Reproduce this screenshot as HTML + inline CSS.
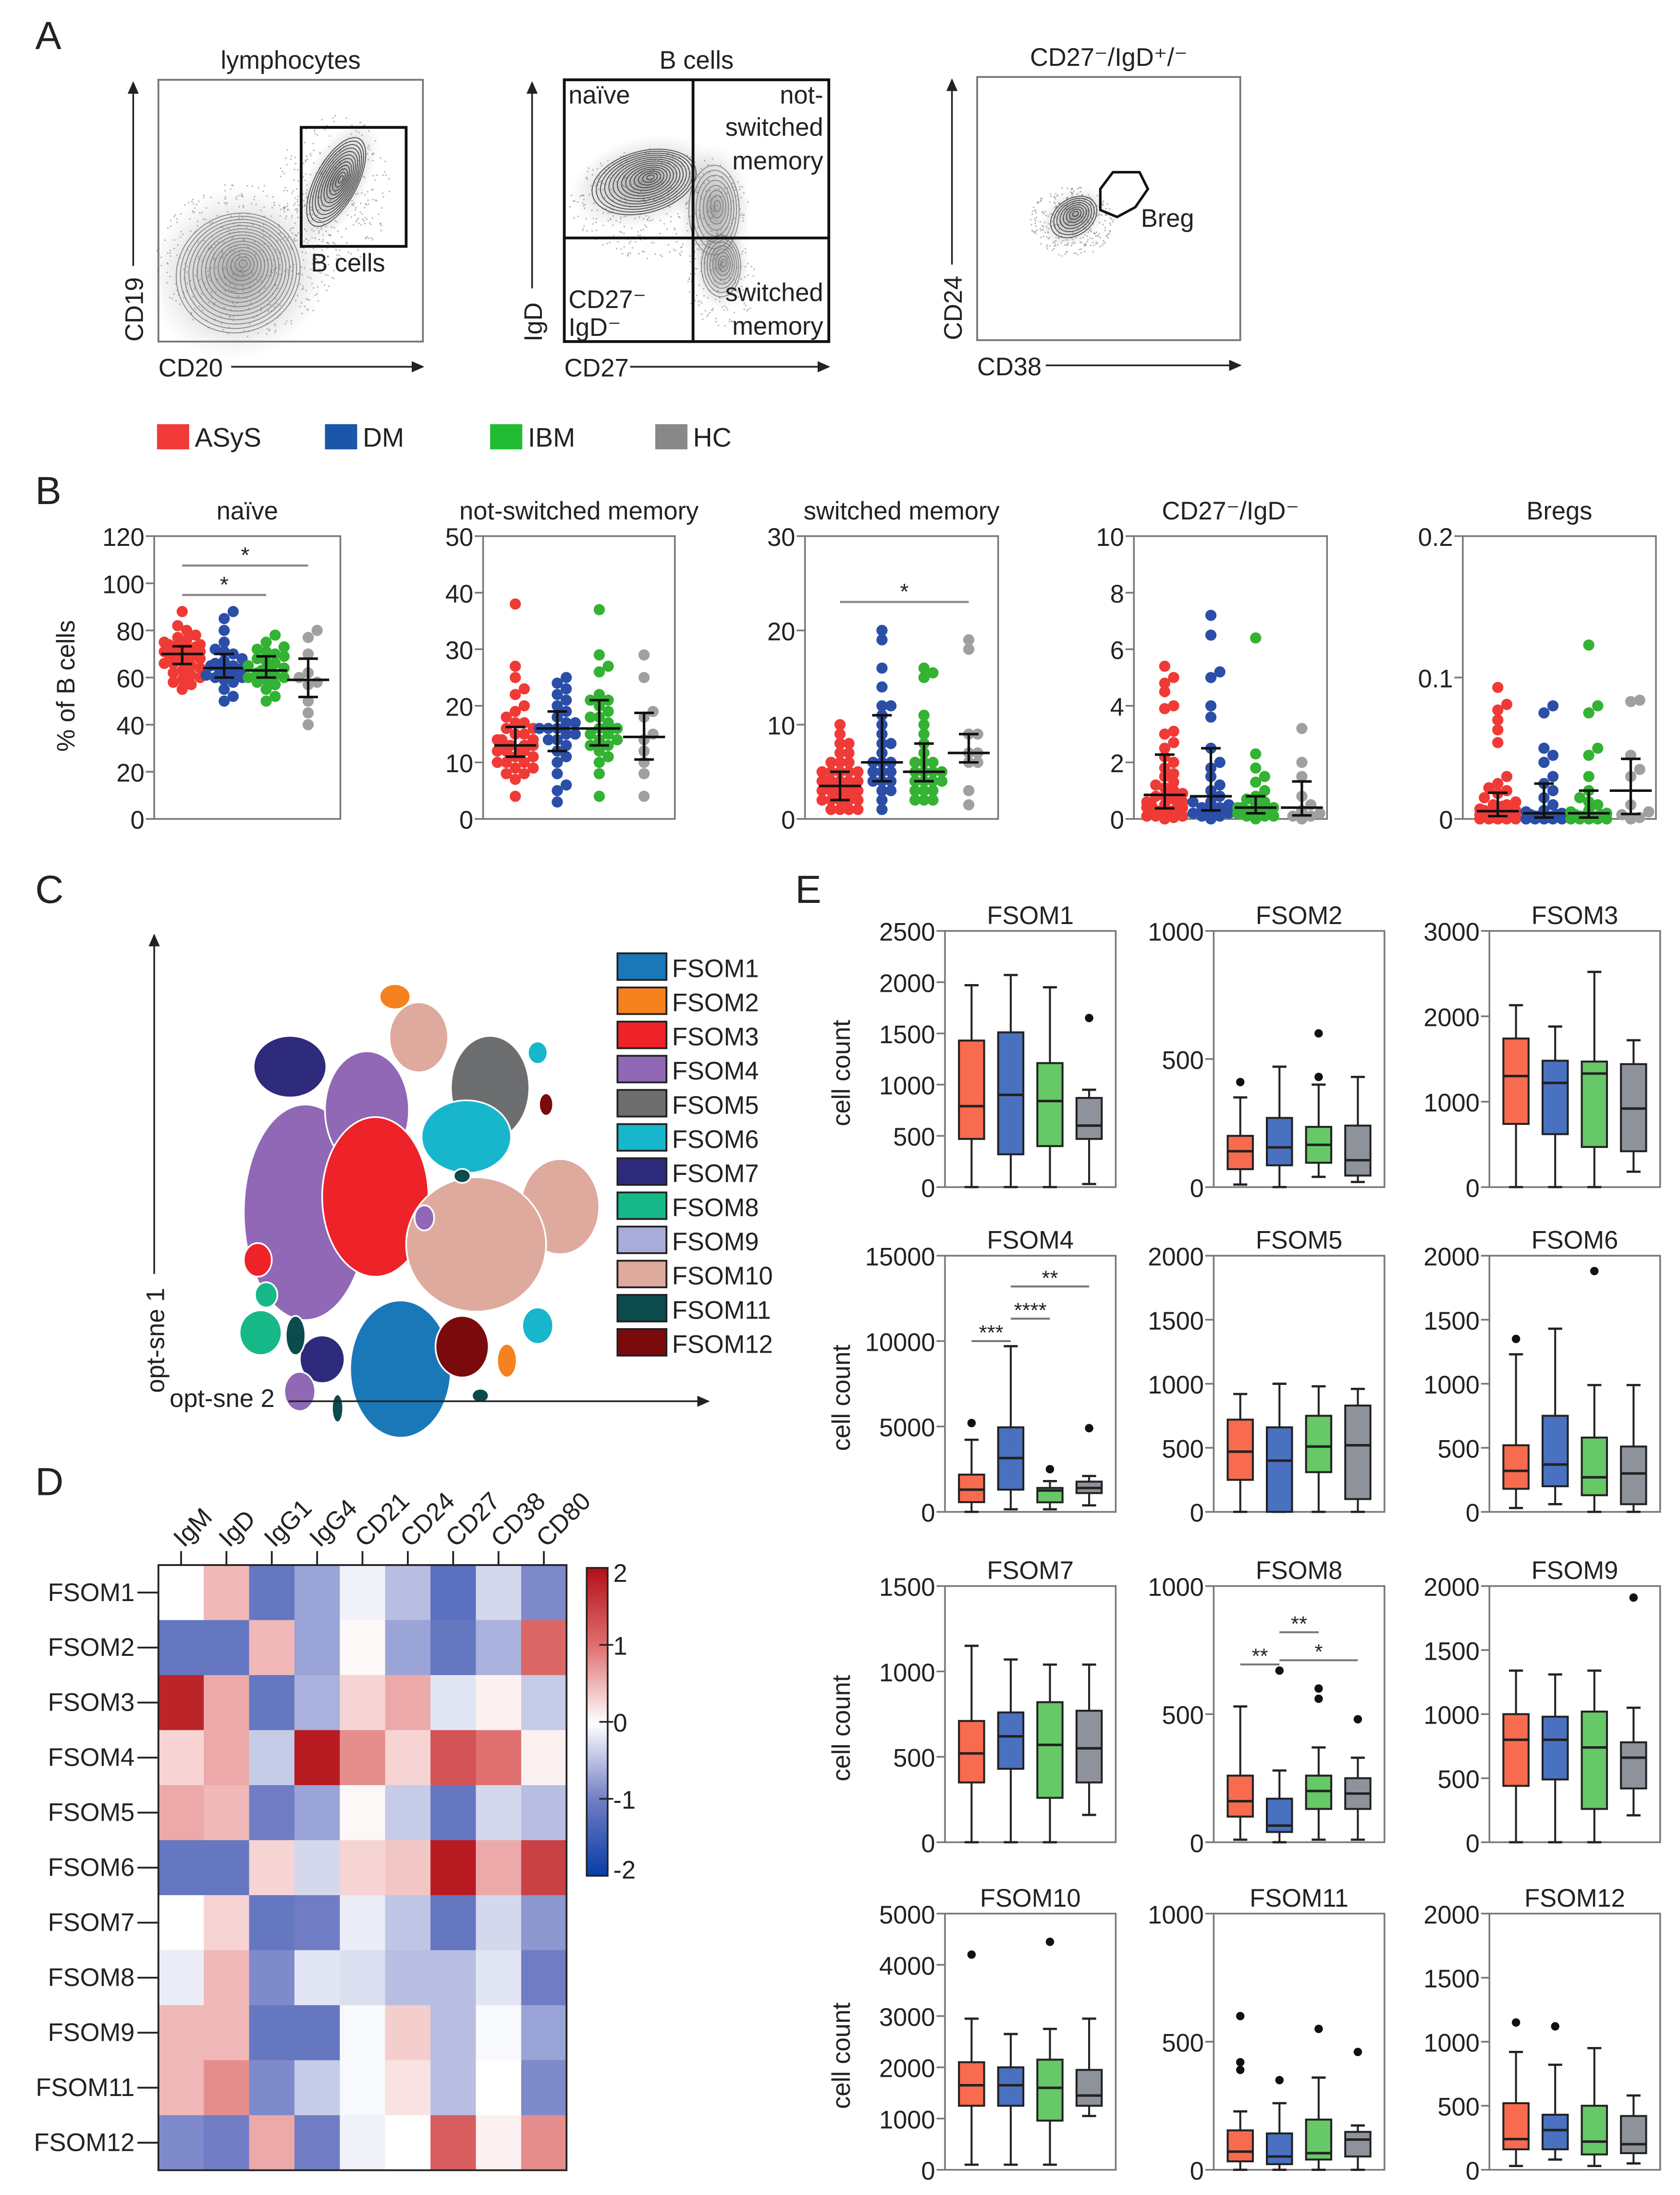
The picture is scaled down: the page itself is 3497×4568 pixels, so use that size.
<!DOCTYPE html>
<html>
<head>
<meta charset="utf-8">
<style>
html,body{margin:0;padding:0;background:#fff;}
svg{display:block;}
text{font-family:"Liberation Sans",Arial,sans-serif;fill:#222;}
</style>
</head>
<body>
<svg id="fig" xmlns="http://www.w3.org/2000/svg" width="3497" height="4568" viewBox="0 0 1200 1568">
<rect x="0" y="0" width="1200" height="1568" fill="#fff"/>
<defs>
<radialGradient id="haze" cx="50%" cy="50%" r="50%">
<stop offset="0%" stop-color="#555" stop-opacity="0.55"/>
<stop offset="60%" stop-color="#888" stop-opacity="0.25"/>
<stop offset="100%" stop-color="#aaa" stop-opacity="0"/>
</radialGradient>
<marker id="arr" markerWidth="10" markerHeight="10" refX="8" refY="5" orient="auto" markerUnits="userSpaceOnUse">
<path d="M0,1 L9,5 L0,9 z" fill="#222"/>
</marker>
</defs>
<g id="root"></g>
</svg>
<script>
// ---------- Panel B data (% of B cells) ----------
const groupNames = ["ASyS","DM","IBM","HC"];
const naiveASyS = [72,70,68,75,78,65,62,71,73,69,74,80,66,58,55,63,77,70,72,68,82,76,64,61,59,67,71,73,70,69,74,66,88,57,60,72,75,68,71,70];
const naiveDM = [63,60,65,58,70,72,55,62,64,80,85,52,66,68,61,59,63,50,67,75,62,60,65,71,88];
const naiveIBM = [63,60,70,58,65,55,75,72,62,68,50,66,64,61,59,73,67,57,63,69,52,62,71,60,78];
const naiveHC = [80,77,70,62,58,57,50,45,60,40];
const nsmASyS = [13,12,15,10,8,18,20,25,27,38,14,11,9,16,13,12,7,22,17,14,10,15,13,12,11,16,19,23,9,14,12,13,15,10,8,17,14,13,11,4];
const nsmDM = [16,17,20,25,23,15,12,10,8,5,22,18,14,16,19,21,13,11,17,24,15,16,6,3,14];
const nsmIBM = [15,18,20,22,29,37,12,10,8,14,16,21,13,17,19,11,27,26,15,14,16,21,13,4,18];
const nsmHC = [29,25,19,15,12,10,8,4,18,14];
const smASyS = [3,2,4,5,6,7,8,9,10,1,2,3,4,5,3,2,1,6,4,3,2,5,4,3,7,2,1,3,4,6,5,3,2,8,4,3,2,1,5,3];
const smDM = [5,4,6,8,10,12,14,16,19,20,3,2,4,7,5,6,9,11,12,4,3,5,6,1,8];
const smIBM = [5,4,3,6,8,10,9,15,16,15.5,2,4,5,7,3,6,4,5,2,3,2,6,4,5,11];
const smHC = [19,18,9,9,7,6,6,3,1.5,7];
const dnASyS = [0,0.2,0.4,0.6,0.8,1,1.2,1.5,2,2.5,3,3.1,4,4.5,4.8,5.4,0.1,0.3,0.5,0.7,1.1,0.9,1.3,0.2,0.4,0.6,0.1,0.3,2.2,1.8,0.8,0.5,0.2,0.1,0.05,1.6,2.7,3.9,5,0.4];
const dnDM = [0,0.2,0.4,0.6,1,1.5,2,2.5,3.6,4,5,5.2,6.5,7.2,0.1,0.3,0.5,0.8,1.2,1.8,0.2,0.4,0.1,0.6,0.3];
const dnIBM = [0,0.1,0.2,0.3,0.4,0.5,0.6,0.8,1,1.5,1.8,2.3,6.4,0.2,0.3,0.1,0.4,0.2,0.5,0.7,0.3,0.1,0.2,0.4,1.3];
const dnHC = [0,0.1,0.2,0.5,0.8,1.5,2,3.2,0.3,0.1];
const brASyS = [0,0.002,0.005,0.01,0.015,0.02,0.03,0.054,0.063,0.07,0.077,0.081,0.093,0.001,0.003,0.004,0.006,0.008,0,0.001,0.002,0.003,0.01,0.012,0,0,0.002,0.001,0.005,0.007,0.025,0.018,0.022,0,0.001,0.002,0.003,0.004,0.006,0.009];
const brDM = [0,0.002,0.005,0.01,0.02,0.03,0.04,0.05,0.075,0.08,0.001,0.003,0,0,0.002,0.004,0.006,0.015,0.025,0,0.001,0.003,0.045,0,0.002];
const brIBM = [0,0.002,0.005,0.01,0.02,0.03,0.045,0.075,0.08,0.123,0,0.001,0.003,0,0.002,0.004,0.006,0.015,0.05,0,0.001,0.003,0,0.002,0.012];
const brHC = [0,0.005,0.01,0.03,0.035,0.045,0.083,0.084,0.003,0.001];

// ---------- Panel D heatmap data ----------
const hmMarkers = ["IgM","IgD","IgG1","IgG4","CD21","CD24","CD27","CD38","CD80"];
const hmClusters = ["FSOM1","FSOM2","FSOM3","FSOM4","FSOM5","FSOM6","FSOM7","FSOM8","FSOM9","FSOM11","FSOM12"];
const hmRow1 = [0,0.5,-1.1,-0.7,-0.1,-0.5,-1.2,-0.3,-0.9];
const hmRow2 = [-1.1,-1.1,0.5,-0.7,0.05,-0.7,-1.1,-0.6,1.1];
const hmRow3 = [1.8,0.6,-1.1,-0.6,0.3,0.6,-0.2,0.1,-0.4];
const hmRow4 = [0.3,0.6,-0.4,1.9,0.8,0.3,1.3,1.0,0.1];
const hmRow5 = [0.6,0.5,-1.0,-0.7,0.05,-0.4,-1.1,-0.3,-0.5];
const hmRow6 = [-1.1,-1.1,0.3,-0.3,0.3,0.4,1.9,0.6,1.5];
const hmRow7 = [0,0.3,-1.1,-1.0,-0.15,-0.45,-1.1,-0.3,-0.8];
const hmRow8 = [-0.15,0.5,-0.9,-0.2,-0.25,-0.5,-0.5,-0.2,-1.0];
const hmRow9 = [0.5,0.5,-1.1,-1.1,-0.05,0.35,-0.5,-0.05,-0.7];
const hmRow11 = [0.5,0.8,-0.9,-0.4,-0.05,0.2,-0.5,0,-0.9];
const hmRow12 = [-0.9,-1.0,0.6,-1.0,-0.1,0,1.2,0.1,0.8];

// ---------- Panel E box-plot data: [min,q1,median,q3,max] ----------
const e1 = [[0,470,790,1430,1970],[0,320,900,1510,2070],[0,400,840,1210,1950],[30,470,600,870,950]];
const e1o = [[],[],[],[1650]];
const e2 = [[10,70,140,200,350],[0,85,155,270,470],[40,95,165,235,400],[20,45,105,240,430]];
const e2o = [[410],[],[430,600],[]];
const e3 = [[0,740,1300,1740,2130],[0,620,1220,1480,1880],[0,470,1330,1470,2520],[180,420,920,1440,1720]];
const e3o = [[],[],[],[]];
const e4 = [[0,570,1300,2180,4220],[150,1300,3150,4950,9700],[150,560,1250,1400,1800],[380,1100,1400,1770,2100]];
const e4o = [[5200],[],[2500],[4900]];
const e5 = [[0,250,470,720,920],[0,0,400,660,1000],[0,310,510,750,980],[0,100,520,830,960]];
const e5o = [[],[],[],[]];
const e6 = [[30,180,320,520,1230],[60,200,370,750,1430],[0,130,270,580,990],[0,60,300,510,990]];
const e6o = [[1350],[],[1880],[]];
const e7 = [[0,350,520,710,1150],[0,430,620,760,1070],[0,260,570,820,1040],[160,350,550,770,1040]];
const e7o = [[],[],[],[]];
const e8 = [[10,100,160,260,530],[0,40,65,170,280],[10,130,200,260,370],[10,130,190,250,330]];
const e8o = [[],[670],[560,600],[480]];
const e9 = [[0,440,800,1000,1340],[0,490,800,980,1310],[0,260,740,1020,1340],[210,420,660,780,1050]];
const e9o = [[],[],[],[1910]];
const e10 = [[100,1250,1650,2100,2950],[100,1250,1650,2000,2650],[100,960,1600,2150,2750],[1050,1250,1450,1950,2950]];
const e10o = [[4200],[],[4450],[]];
const e11 = [[0,33,71,154,228],[0,22,52,142,260],[0,40,65,196,360],[0,52,118,148,173]];
const e11o = [[390,420,600],[350],[550],[460]];
const e12 = [[30,160,240,520,920],[80,160,310,430,820],[30,120,220,500,950],[50,130,200,420,580]];
const e12o = [[1150],[1120],[],[]];
const eMax = [2500,1000,3000,15000,2000,2000,1500,1000,2000,5000,1000,2000];
const eStep = [500,500,1000,5000,500,500,500,500,500,1000,500,500];
const eTitles = ["FSOM1","FSOM2","FSOM3","FSOM4","FSOM5","FSOM6","FSOM7","FSOM8","FSOM9","FSOM10","FSOM11","FSOM12"];

// ---------- helpers ----------
const NS="http://www.w3.org/2000/svg";
const root=document.getElementById('root');
function mk(tag,attrs,parent,txt){const e=document.createElementNS(NS,tag);for(const k in attrs)e.setAttribute(k,attrs[k]);if(txt!==undefined)e.textContent=txt;(parent||root).appendChild(e);return e;}
function grp(name,parent){const g=mk('g',{},parent);return g;}
function txt(s,x,y,size,anchor,parent,name,extra){const t=mk('text',Object.assign({x:x,y:y,'font-size':size,'text-anchor':anchor||'start'},extra||{}),parent,s);return t;}
function line(x1,y1,x2,y2,parent,stroke,w,name){const l=mk('line',{x1:x1,y1:y1,x2:x2,y2:y2,stroke:stroke||'#333','stroke-width':w||1.2},parent);return l;}

// panel letters
[["A",25,35],["B",25,360],["C",25,645],["D",25,1068],["E",568,645]].forEach(p=>{txt(p[0],p[1],p[2],28,'start',root,'panel-letter-'+p[0].toLowerCase());});

// ---------- Panel A: flow plots ----------
function contours(g,cx,cy,rx,ry,rot,n,dark){
  const hz=mk('ellipse',{cx:cx,cy:cy,rx:rx*1.45,ry:ry*1.45,fill:'url(#haze)',transform:`rotate(${rot} ${cx} ${cy})`},g);
  
  for(let i=0;i<n;i++){const f=1-i/n;const e=mk('ellipse',{cx:cx+(1-f)*rx*0.15,cy:cy-(1-f)*ry*0.1,rx:rx*f,ry:ry*f,fill:'none',stroke:dark?'#333':'#777','stroke-width':0.7,'stroke-opacity':0.8,transform:`rotate(${rot} ${cx} ${cy})`},g);}
}
function speckle(g,cx,cy,rx,ry,n,seed){let s=seed;function r(){s=(s*9301+49297)%233280;return s/233280;}
  for(let i=0;i<n;i++){const a=r()*6.283,d=Math.sqrt(r());const c=mk('rect',{x:cx+Math.cos(a)*rx*d,y:cy+Math.sin(a)*ry*d,width:1,height:1,fill:'#666','fill-opacity':0.5},g);}}
function flowFrame(g,x,y,w,h,title,xl,yl,axX,arrowStartX,ylw){
  const r=mk('rect',{x:x,y:y,width:w,height:h,fill:'none',stroke:'#777','stroke-width':1.3},g);
  txt(title,x+w/2,y-8,18,'middle',g,'plot-title');
  const va=line(axX,y+h-ylw-6,axX,y+2,g,'#222',1.2,'y-axis-arrow');va.setAttribute('marker-end','url(#arr)');
  txt(yl,axX+7,y+h,18,'start',g,'y-axis-title',{transform:`rotate(-90 ${axX+7} ${y+h})`});
  txt(xl,x,y+h+25,18,'start',g,'x-axis-title');
  const ha=line(arrowStartX,y+h+18,x+w,y+h+18,g,'#222',1.2,'x-axis-arrow');ha.setAttribute('marker-end','url(#arr)');
}
(function(){
  const g1=grp('flow-lymphocytes');
  flowFrame(g1,113,57,189,187,'lymphocytes','CD20','CD19',95,165,48);
  speckle(g1,175,185,65,55,500,3);speckle(g1,238,135,40,55,300,7);
  contours(g1,170,195,45,42,-30,16,false);
  contours(g1,240,130,15,35,28,12,true);
  const gate=mk('rect',{x:215,y:91,width:75,height:85,fill:'none',stroke:'#111','stroke-width':2},g1);
  txt('B cells',222,194,18,'start',g1,'gate-label');

  const g2=grp('flow-b-cells');
  flowFrame(g2,403,57,189,187,'B cells','CD27','IgD',380,450,32);
  speckle(g2,470,145,65,40,400,11);speckle(g2,515,200,25,35,150,5);
  contours(g2,460,130,38,22,-15,14,true);
  contours(g2,510,150,18,32,0,8,false);
  contours(g2,515,190,14,22,0,8,false);
  const q=mk('rect',{x:403,y:57,width:189,height:187,fill:'none',stroke:'#111','stroke-width':2},g2);
  line(495,57,495,244,g2,'#111',2,'quadrant-line');line(403,170,592,170,g2,'#111',2,'quadrant-line');
  txt('naïve',406,74,18,'start',g2,'quadrant-label');
  txt('not-',588,74,18,'end',g2,'quadrant-label');txt('switched',588,97,18,'end',g2,'quadrant-label');txt('memory',588,121,18,'end',g2,'quadrant-label');
  txt('CD27⁻',406,220,18,'start',g2,'quadrant-label');txt('IgD⁻',406,240,18,'start',g2,'quadrant-label');
  txt('switched',588,215,18,'end',g2,'quadrant-label');txt('memory',588,239,18,'end',g2,'quadrant-label');

  const g3=grp('flow-cd27-igd');
  flowFrame(g3,698,55,188,188,'CD27⁻/IgD⁺/⁻','CD38','CD24',680,747,48);
  speckle(g3,765,158,30,25,300,9);
  contours(g3,767,155,18,13,-35,8,true);
  const hx=mk('polygon',{points:'786,135 795,123 814,123 820,135 811,148 798,155 786,150',fill:'none',stroke:'#111','stroke-width':1.8},g3);
  txt('Breg',815,162,18,'start',g3,'gate-label');
})();

// ---------- legend ----------
const gColL=['#f23a3a','#1b56a8','#22bb33','#888888'];
(function(){const g=grp('group-legend');const xs=[112,232,350,468];
  groupNames.forEach((n,i)=>{const e=grp('legend-entry-'+n.toLowerCase(),g);const r=mk('rect',{x:xs[i],y:303,width:23,height:18,fill:gColL[i]},e);txt(n,xs[i]+27,319,19,'start',e,'legend-label');});})();

// ---------- Panel B scatter plots ----------
const ptCol=['#f03a36','#2b4fa8','#33b233','#a0a0a0'];
function quant(a,p){const s=[...a].sort((x,y)=>x-y);const i=(s.length-1)*p;const lo=Math.floor(i),hi=Math.ceil(i);return s[lo]+(s[hi]-s[lo])*(i-lo);}
function scatterPlot(cfg){
  const g=grp(cfg.name);const {x0,x1,y0,y1,max,ticks}=cfg;
  const ys=v=>y1-(v/max)*(y1-y0);
  const fr=mk('path',{d:`M${x0},${y0} L${x1},${y0} L${x1},${y1} L${x0},${y1} Z`,fill:'none',stroke:'#777','stroke-width':1.2},g);
  ticks.forEach(t=>{line(x0-6,ys(t),x0,ys(t),g,'#777',1.2,'y-tick');txt(cfg.fmt?cfg.fmt(t):String(t),x0-7,ys(t)+7,18,'end',g,'y-tick-label');});
  txt(cfg.title,(x0+x1)/2,y0-12,18,'middle',g,'plot-title');
  const gx=cfg.gx;
  cfg.series.forEach((vals,gi)=>{
    const sg=grp('points-'+groupNames[gi].toLowerCase(),g);
    const placed=[];const r=4;
    const order=[...vals].sort((a,b)=>a-b);
    let cnt=0;
    order.forEach(v=>{const cy=ys(v);let dx=null;for(let k=0;k<9;k++){const cand=(k%2?1:-1)*Math.ceil(k/2)*3.2;const ok=placed.every(p=>Math.hypot(p[0]-cand,p[1]-cy)>=2*r*0.75);if(ok){dx=cand;break;}}
      if(dx===null){const k=cnt%9;dx=(k%2?1:-1)*Math.ceil(k/2)*3.2;cnt++;}
      placed.push([dx,cy]);const c=mk('circle',{cx:gx[gi]+dx,cy:cy,r:r,fill:ptCol[gi]},sg);});
    const m=quant(vals,0.5),q1=quant(vals,0.25),q3=quant(vals,0.75);
    const eb=grp('median-iqr-bar',sg);
    line(gx[gi],ys(q1),gx[gi],ys(q3),eb,'#111',1.8,'error-bar');
    line(gx[gi]-7,ys(q1),gx[gi]+7,ys(q1),eb,'#111',1.8,'error-cap');
    line(gx[gi]-7,ys(q3),gx[gi]+7,ys(q3),eb,'#111',1.8,'error-cap');
    line(gx[gi]-15,ys(m),gx[gi]+15,ys(m),eb,'#111',1.8,'median-line');
  });
  (cfg.sig||[]).forEach(s=>{const sg=grp('significance-bar',g);line(gx[s[0]],s[2],gx[s[1]],s[2],sg,'#888',1.5,'sig-line');txt(s[3],(gx[s[0]]+gx[s[1]])/2,s[2]-2,16,'middle',sg,'sig-stars');});
}
scatterPlot({name:'plot-naive',x0:110,x1:243,y0:383,y1:585,max:120,ticks:[0,20,40,60,80,100,120],title:'naïve',gx:[130,160,190,220],series:[naiveASyS,naiveDM,naiveIBM,naiveHC],sig:[[0,3,404,'*'],[0,2,425,'*']]});
scatterPlot({name:'plot-not-switched-memory',x0:345,x1:482,y0:383,y1:585,max:50,ticks:[0,10,20,30,40,50],title:'not-switched memory',gx:[368,398,428,460],series:[nsmASyS,nsmDM,nsmIBM,nsmHC]});
scatterPlot({name:'plot-switched-memory',x0:575,x1:713,y0:383,y1:585,max:30,ticks:[0,10,20,30],title:'switched memory',gx:[600,630,660,692],series:[smASyS,smDM,smIBM,smHC],sig:[[0,3,430,'*']]});
scatterPlot({name:'plot-cd27-igd-neg',x0:810,x1:948,y0:383,y1:585,max:10,ticks:[0,2,4,6,8,10],title:'CD27⁻/IgD⁻',gx:[832,865,897,930],series:[dnASyS,dnDM,dnIBM,dnHC]});
scatterPlot({name:'plot-bregs',x0:1045,x1:1183,y0:383,y1:585,max:0.2,ticks:[0,0.1,0.2],title:'Bregs',gx:[1070,1103,1135,1165],series:[brASyS,brDM,brIBM,brHC],fmt:t=>t===0?'0':String(t)});
txt('% of B cells',53,537,18,'start',root,'y-axis-title',{transform:'rotate(-90 53 537)'});

// ---------- Panel C: opt-SNE ----------
const fsomCol=['#1a78b8','#f5821f','#ee2229','#9068b6','#6d6e70','#17b6cc','#2e2a7c','#16b888','#a9abd8','#dfaa9e','#0b4a4d','#7a0a0c'];
(function(){const g=grp('opt-sne-map');
  const blobs=[[3,218,866,44,77],[3,262,793,30,42],[9,400,862,28,34],[9,299,741,21,25],[4,350,777,28,37],[5,333,812,32,26],[5,384,947,11,13],[6,207,762,26,22],[6,230,971,16,17],[3,214,994,11,14],[2,268,855,38,57],[9,340,889,50,48],[0,286,978,36,49],[11,330,962,19,22],[1,282,712,11,9],[2,184,900,10,12],[7,190,925,8,9],[7,186,952,15,16],[10,211,954,7,14],[1,362,972,7,12],[10,343,997,6,5],[10,241,1006,4,10],[5,384,752,7,8],[11,390,789,5,8],[10,330,840,6,5],[3,303,870,7,9]];
  blobs.forEach(b=>{const e=mk('ellipse',{cx:b[1],cy:b[2],rx:b[3],ry:b[4],fill:fsomCol[b[0]],stroke:'#fff','stroke-width':1.2},g);});
  const va=line(110,910,110,668,root,'#222',1.2,'y-axis-arrow');va.setAttribute('marker-end','url(#arr)');
  txt('opt-sne 1',117,995,18,'start',root,'y-axis-title',{transform:'rotate(-90 117 995)'});
  txt('opt-sne 2',121,1005,18,'start',root,'x-axis-title');
  const ha=line(206,1001,506,1001,root,'#222',1.2,'x-axis-arrow');ha.setAttribute('marker-end','url(#arr)');
  const lg=grp('cluster-legend');
  eTitles.forEach((n,i)=>{const e=grp('legend-entry-'+n.toLowerCase(),lg);const y=681+i*24.4;const r=mk('rect',{x:441,y:y,width:35,height:19,fill:fsomCol[i],stroke:'#222','stroke-width':1.3},e);txt(n,480,y+17,18,'start',e,'legend-label');});
})();

// ---------- Panel D heatmap ----------
const hmRows=[hmRow1,hmRow2,hmRow3,hmRow4,hmRow5,hmRow6,hmRow7,hmRow8,hmRow9,hmRow11,hmRow12];
function hmColor(v){v=Math.max(-2,Math.min(2,v));const st=[[-2,[5,60,165]],[-1,[112,125,196]],[0,[255,255,255]],[1,[224,112,112]],[2,[178,18,24]]];
  for(let i=0;i<4;i++){if(v<=st[i+1][0]){const t=(v-st[i][0]);const a=st[i][1],b=st[i+1][1];return `rgb(${Math.round(a[0]+(b[0]-a[0])*t)},${Math.round(a[1]+(b[1]-a[1])*t)},${Math.round(a[2]+(b[2]-a[2])*t)})`;}}return 'rgb(178,18,24)';}
(function(){const g=grp('heatmap');const x0=113,y0=1118,cw=32.4,ch=39.3;
  hmRows.forEach((row,ri)=>{const rg=grp('heatmap-row-'+hmClusters[ri].toLowerCase(),g);row.forEach((v,ci)=>{const r=mk('rect',{x:x0+ci*cw,y:y0+ri*ch,width:cw+0.4,height:ch+0.4,fill:hmColor(v)},rg);});
    line(98,y0+ri*ch+ch/2,x0,y0+ri*ch+ch/2,g,'#222',1.3,'row-tick');txt(hmClusters[ri],96,y0+ri*ch+ch/2+6,18,'end',g,'row-label');});
  const fr=mk('rect',{x:x0,y:y0,width:cw*9,height:ch*11,fill:'none',stroke:'#222','stroke-width':1.3},g);
  hmMarkers.forEach((m,ci)=>{const cx=x0+ci*cw+cw/2;line(cx,y0-10,cx,y0,g,'#222',1.3,'column-tick');txt(m,cx+2,y0-12,18,'start',g,'column-label',{transform:`rotate(-45 ${cx+2} ${y0-12})`});});
  const cb=grp('colorbar');const cbx=419,cby=1120,cbh=220;
  for(let i=0;i<110;i++){const v=2-4*i/110;const r=mk('rect',{x:cbx,y:cby+i*cbh/110,width:15,height:cbh/110+0.5,fill:hmColor(v)},cb);}
  const cf=mk('rect',{x:cbx,y:cby,width:15,height:cbh,fill:'none',stroke:'#222','stroke-width':1.2},cb);
  [2,1,0,-1,-2].forEach(t=>{const y=cby+(2-t)/4*cbh;if(t!==2&&t!==-2)line(cbx+9,y,cbx+19,y,cb,'#222',1.2,'colorbar-tick');txt(String(t),cbx+19,y+(t===2?10:t===-2?2:7),18,'start',cb,'colorbar-label');});
})();

// ---------- Panel E box plots ----------
const eData=[e1,e2,e3,e4,e5,e6,e7,e8,e9,e10,e11,e12];
const eOut=[e1o,e2o,e3o,e4o,e5o,e6o,e7o,e8o,e9o,e10o,e11o,e12o];
const boxCol=['#f86b4f','#4a70c0','#66c866','#8e939b'];
const eSig={3:[[0,1,958,'***'],[1,2,942,'****'],[1,3,919,'**']],7:[[0,1,1189,'**'],[1,2,1166,'**'],[1,3,1186,'*']]};
(function(){const colX=[675,867,1064],rowY=[665,897,1133,1367],W=122,H=183,off=[19,47,75,103];
  eData.forEach((stats,pi)=>{const col=pi%3,row=Math.floor(pi/3);const x0=colX[col],y0=rowY[row];const g=grp('boxplot-'+eTitles[pi].toLowerCase());
    const max=eMax[pi];const ys=v=>y0+H-(v/max)*H;
    const fr=mk('path',{d:`M${x0},${y0} L${x0+W},${y0} L${x0+W},${y0+H} L${x0},${y0+H} Z`,fill:'none',stroke:'#777','stroke-width':1.2},g);
    for(let t=0;t<=max+0.001;t+=eStep[pi]){line(x0-6,ys(t),x0,ys(t),g,'#777',1.2,'y-tick');txt(String(t),x0-7,ys(t)+7,18,'end',g,'y-tick-label');}
    txt(eTitles[pi],x0+W/2,y0-5,18,'middle',g,'plot-title');
    stats.forEach((s,gi)=>{const bg=grp('box-'+groupNames[gi].toLowerCase(),g);const cx=x0+off[gi];
      line(cx,ys(s[0]),cx,ys(s[1]),bg,'#222',1.4,'whisker');line(cx,ys(s[3]),cx,ys(s[4]),bg,'#222',1.4,'whisker');
      line(cx-5,ys(s[0]),cx+5,ys(s[0]),bg,'#222',1.6,'whisker-cap');line(cx-5,ys(s[4]),cx+5,ys(s[4]),bg,'#222',1.6,'whisker-cap');
      const r=mk('rect',{x:cx-9,y:ys(s[3]),width:18,height:Math.max(1,ys(s[1])-ys(s[3])),fill:boxCol[gi],stroke:'#222','stroke-width':1.4},bg);
      line(cx-9,ys(s[2]),cx+9,ys(s[2]),bg,'#222',1.8,'median-line');
      eOut[pi][gi].forEach(o=>{const c=mk('circle',{cx:cx,cy:ys(o),r:3,fill:'#111'},bg);});
    });
    (eSig[pi]||[]).forEach(s=>{const sg=grp('significance-bar',g);line(x0+off[s[0]],s[2],x0+off[s[1]],s[2],sg,'#777',1.4,'sig-line');txt(s[3],(x0+off[s[0]]+x0+off[s[1]])/2,s[2]-1,15,'middle',sg,'sig-stars');});
    if(col===0){const yy=y0+H/2+48;txt('cell count',607,yy,18,'start',g,'y-axis-title',{transform:`rotate(-90 607 ${yy})`});}
  });
})();
</script>
</body>
</html>
